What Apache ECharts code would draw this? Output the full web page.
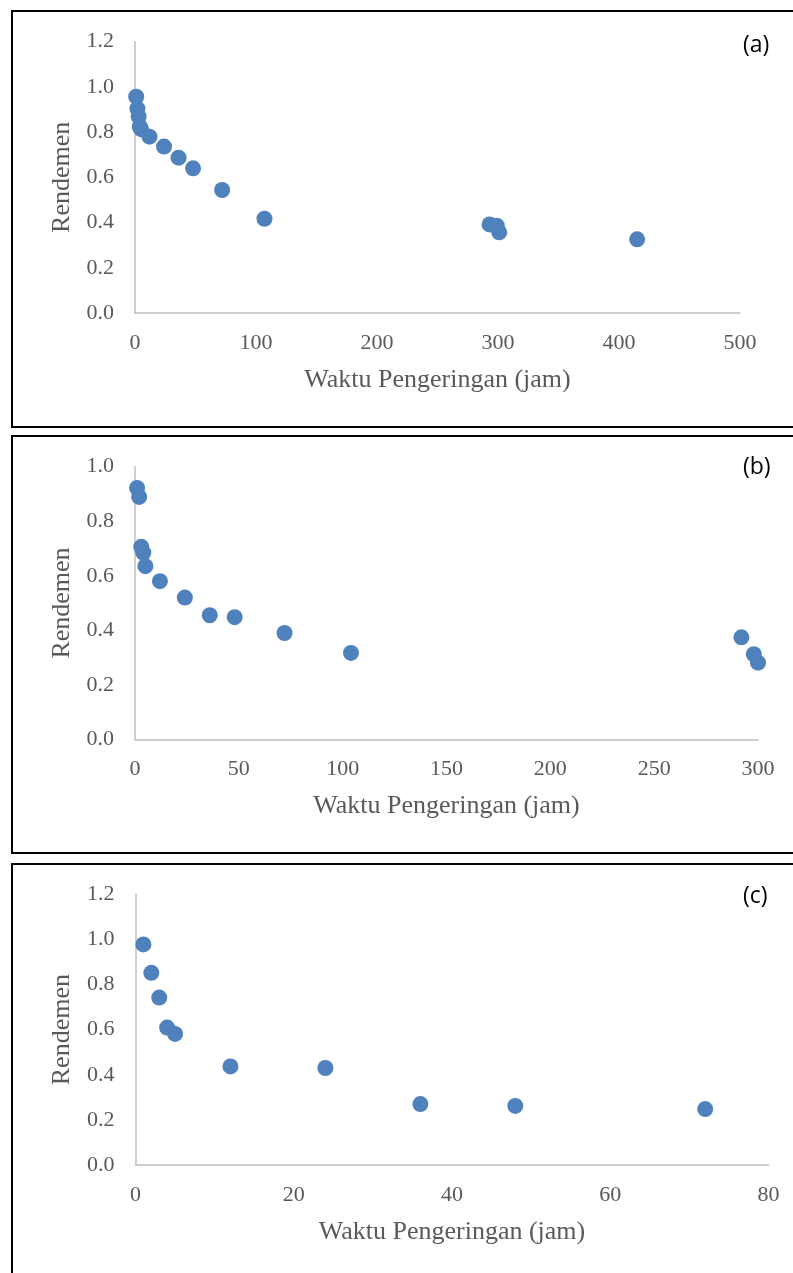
<!DOCTYPE html>
<html>
<head>
    <meta charset="utf-8">
    <title>Rendemen vs Waktu Pengeringan</title>
    <style>
        html, body { margin: 0; padding: 0; background: #fff; }
        #chart { width: 793px; height: 1273px; }
    </style>
</head>
<body>
<div id="chart"></div>
<script src="https://cdn.jsdelivr.net/npm/echarts@6/dist/echarts.min.js"></script>
<script>
    // panel (a)
    var jamA = [1, 2, 3, 4, 5, 12, 24, 36, 48, 72, 107, 293, 299, 301, 415];
    var rendA = [0.957, 0.904, 0.869, 0.824, 0.813, 0.78, 0.736, 0.687, 0.640, 0.544, 0.417, 0.392, 0.386, 0.357, 0.326];
    // panel (b)
    var jamB = [1, 2, 3, 4, 5, 12, 24, 36, 48, 72, 104, 292, 298, 300];
    var rendB = [0.922, 0.889, 0.706, 0.685, 0.635, 0.58, 0.52, 0.455, 0.448, 0.39, 0.317, 0.374, 0.312, 0.281];
    // panel (c)
    var jamC = [1, 2, 3, 4, 5, 12, 24, 36, 48, 72];
    var rendC = [0.978, 0.852, 0.742, 0.609, 0.581, 0.437, 0.43, 0.27, 0.262, 0.248];

    var panelLabels = ['(a)', '(b)', '(c)'];

    function pairs(xs, ys) {
        var out = [];
        for (var i = 0; i < xs.length; i++) {
            out.push([xs[i], ys[i]]);
        }
        return out;
    }

    var serif = '"Liberation Serif", "Times New Roman", serif';
    var grey = '#595959';

    function xAxis(idx, max, step) {
        return {
            type: 'value', gridIndex: idx, min: 0, max: max, interval: step,
            name: 'Waktu Pengeringan (jam)', nameLocation: 'middle', nameGap: 54,
            nameTextStyle: { fontFamily: serif, fontSize: 26, color: grey },
            axisLine: { show: true, onZero: false, lineStyle: { color: '#bfbfbf', width: 1.5 } },
            axisTick: { show: false },
            splitLine: { show: false },
            axisLabel: { fontFamily: serif, fontSize: 22, color: grey, margin: 19 }
        };
    }

    function yAxis(idx, max) {
        return {
            type: 'value', gridIndex: idx, min: 0, max: max, interval: 0.2,
            name: 'Rendemen', nameLocation: 'middle', nameGap: 60,
            nameTextStyle: { fontFamily: serif, fontSize: 26, color: grey },
            axisLine: { show: true, lineStyle: { color: '#bfbfbf', width: 1.5 } },
            axisTick: { show: false },
            splitLine: { show: false },
            axisLabel: {
                fontFamily: serif, fontSize: 22, color: grey, margin: 21,
                formatter: function (v) { return v.toFixed(1); }
            }
        };
    }

    function dots(idx, data) {
        return {
            type: 'scatter', xAxisIndex: idx, yAxisIndex: idx,
            symbolSize: 16, data: data,
            itemStyle: { color: '#4f81bd', opacity: 1 }
        };
    }

    var boxes = [[11, 427], [436, 853], [864, 1300]];
    var labelY = [48, 470, 899];
    var graphics = [];
    for (var i = 0; i < 3; i++) {
        graphics.push({
            type: 'rect', silent: true,
            shape: { x: 12, y: boxes[i][0], width: 800, height: boxes[i][1] - boxes[i][0] },
            style: { fill: null, stroke: '#000', lineWidth: 2 }
        });
        graphics.push({
            type: 'text', left: 743, top: labelY[i] - 14,
            style: { text: panelLabels[i], font: '23px "Open Sans", "Liberation Sans", sans-serif', fill: '#000' }
        });
    }

    var chart = echarts.init(document.getElementById('chart'));
    var option = {
        animation: false,
        grid: [
            { left: 135, top: 41.7, width: 605, height: 271.3 },
            { left: 135, top: 466.7, width: 623, height: 272.6 },
            { left: 135.5, top: 894.3, width: 633, height: 270.7 }
        ],
        xAxis: [xAxis(0, 500, 100), xAxis(1, 300, 50), xAxis(2, 80, 20)],
        yAxis: [yAxis(0, 1.2), yAxis(1, 1.0), yAxis(2, 1.2)],
        series: [dots(0, pairs(jamA, rendA)), dots(1, pairs(jamB, rendB)), dots(2, pairs(jamC, rendC))],
        graphic: graphics
    };
    chart.setOption(option);
</script>
</body>
</html>
